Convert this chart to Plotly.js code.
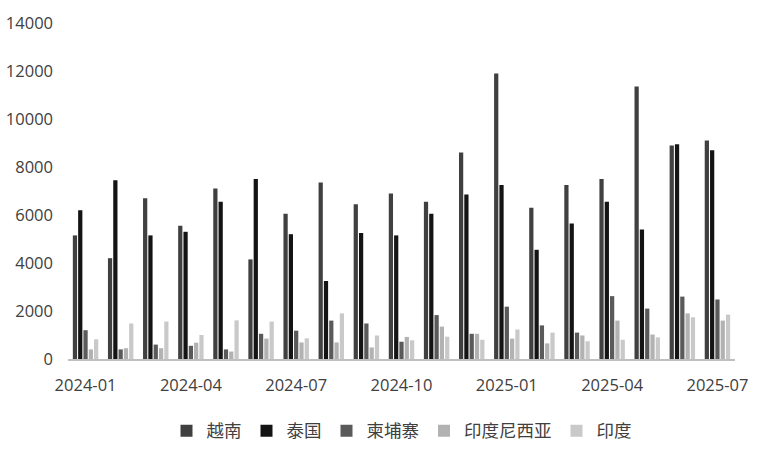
<!DOCTYPE html>
<html>
<head>
<meta charset="utf-8">
<script src="https://cdn.plot.ly/plotly-3.0.1.min.js"></script>
<style>
  html, body { margin: 0; padding: 0; background: #fff; }
  #chart { width: 760px; height: 451px; }
</style>
</head>
<body>
<div id="chart"></div>
<script>
// months on the category axis
const months = [
  '2024-01', '2024-02', '2024-03', '2024-04', '2024-05', '2024-06', '2024-07',
  '2024-08', '2024-09', '2024-10', '2024-11', '2024-12', '2025-01', '2025-02',
  '2025-03', '2025-04', '2025-05', '2025-06', '2025-07'
];
const tickMonths = ['2024-01', '2024-04', '2024-07', '2024-10', '2025-01', '2025-04', '2025-07'];
const yTicks = [0, 2000, 4000, 6000, 8000, 10000, 12000, 14000];

// values
const vietnam   = [5150, 4200, 6700, 5550, 7100, 4150, 6050, 7350, 6450, 6900, 6550, 8600, 11900, 6300, 7250, 7500, 11350, 8900, 9100];
const thailand  = [6200, 7450, 5150, 5300, 6550, 7500, 5200, 3250, 5250, 5150, 6050, 6850, 7250, 4550, 5650, 6550, 5400, 8950, 8700];
const cambodia  = [1200, 400, 600, 550, 400, 1050, 1180, 1600, 1480, 720, 1830, 1050, 2180, 1400, 1100, 2620, 2100, 2600, 2480];
const indonesia = [400, 450, 450, 680, 310, 850, 690, 690, 480, 920, 1350, 1050, 850, 650, 980, 1600, 1020, 1900, 1600];
const india     = [820, 1480, 1560, 1000, 1610, 1560, 860, 1900, 980, 780, 930, 800, 1230, 1100, 740, 800, 900, 1740, 1850];

const seriesNames = ['越南', '泰国', '柬埔寨', '印度尼西亚', '印度'];
const seriesColors = ['#404040', '#141414', '#5a5a5a', '#b2b2b2', '#c9c9c9'];

const font = '"Open Sans", "Noto Sans CJK SC", sans-serif';

const traces = [vietnam, thailand, cambodia, indonesia, india].map((vals, i) => ({
    type: 'bar',
    x: months,
    y: vals,
    name: seriesNames[i],
    marker: { color: seriesColors[i], line: { width: 0 } },
    hoverinfo: 'x+y+name'
}));

const layout = {
    width: 760,
    height: 451,
    margin: { t: 23, r: 25, b: 92, l: 68, autoexpand: false },
    paper_bgcolor: '#ffffff',
    plot_bgcolor: '#ffffff',
    barmode: 'group',
    bargap: 0.245,
    bargroupgap: 0.2,
    font: { family: font, color: '#404040', size: 16 },
    xaxis: {
        type: 'category',
        tickvals: tickMonths,
        ticktext: tickMonths,
        automargin: false,
        showgrid: false,
        showline: true,
        linecolor: '#bfbfbf',
        linewidth: 1.5,
        ticks: '',
        ticklabelstandoff: 11,
        tickfont: { size: 16.5, color: '#404040' }
    },
    yaxis: {
        range: [0, 14000],
        tickvals: yTicks,
        ticktext: yTicks.map(String),
        automargin: false,
        showgrid: false,
        zeroline: false,
        showline: false,
        ticks: '',
        ticklabelstandoff: 14,
        tickfont: { size: 16.5, color: '#404040' }
    },
    legend: {
        orientation: 'h',
        x: 0.5,
        xanchor: 'center',
        y: -0.16,
        yanchor: 'top',
        font: { size: 17.5, color: '#404040', family: '"Noto Sans CJK SC", sans-serif' },
        itemwidth: 30
    },
    showlegend: true
};

Plotly.newPlot('chart', traces, layout, { displayModeBar: false, staticPlot: true });
</script>
</body>
</html>
